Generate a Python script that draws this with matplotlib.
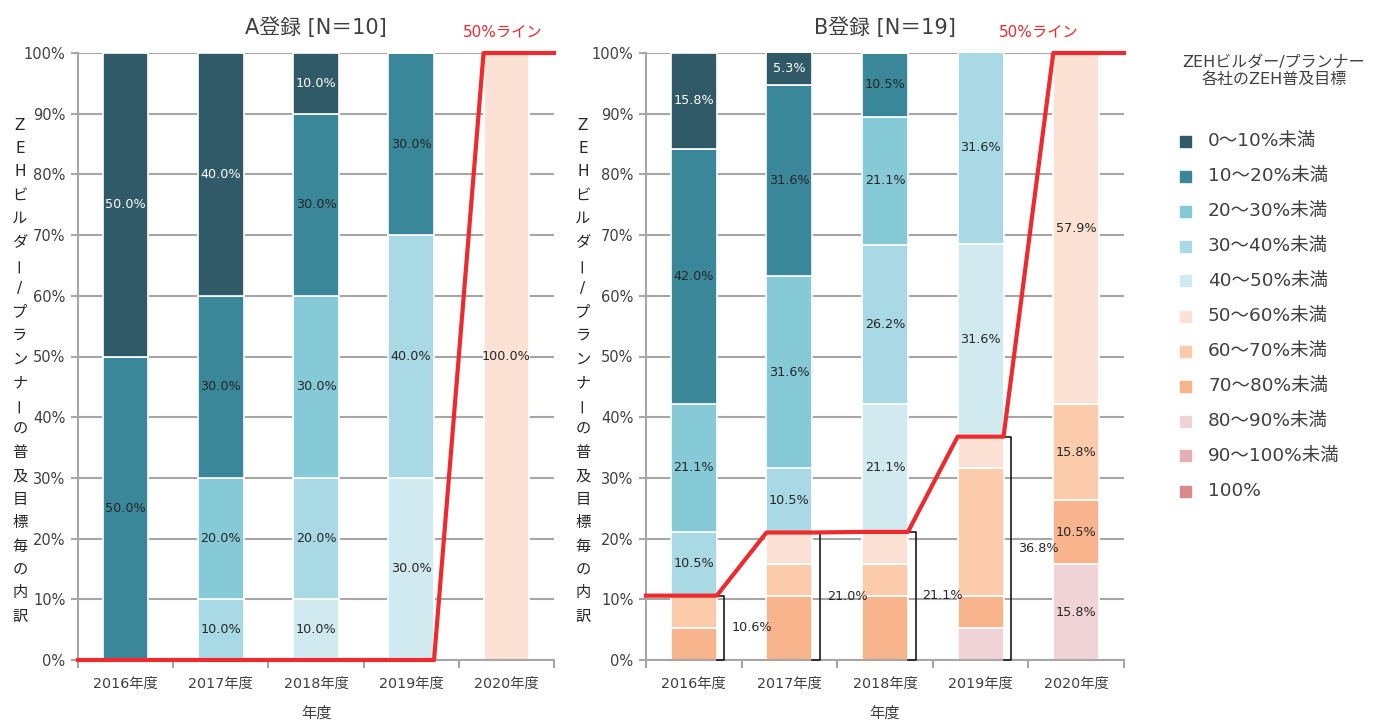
import numpy as np
import matplotlib.pyplot as plt
from matplotlib.patches import Rectangle

plt.rcParams['font.family'] = ['DejaVu Sans', 'Noto Sans CJK JP']

years = ['2016年度', '2017年度', '2018年度', '2019年度', '2020年度']
bands = ['0～10%未満', '10～20%未満', '20～30%未満', '30～40%未満', '40～50%未満',
         '50～60%未満', '60～70%未満', '70～80%未満', '80～90%未満', '90～100%未満', '100%']
band_colors = ['#305a67', '#3a8799', '#86cad8', '#a9d9e4', '#d0eaf0',
               '#fce2d4', '#fbcbac', '#f8b48c', '#f0d3d6', '#e4b0b3', '#d88a8d']

# shares per band (rows) and year (cols), %
a_shares = [
    [50, 40, 10, 0, 0],
    [50, 30, 30, 30, 0],
    [0, 20, 30, 0, 0],
    [0, 10, 20, 40, 0],
    [0, 0, 10, 30, 0],
    [0, 0, 0, 0, 100],
    [0, 0, 0, 0, 0],
    [0, 0, 0, 0, 0],
    [0, 0, 0, 0, 0],
    [0, 0, 0, 0, 0],
    [0, 0, 0, 0, 0],
]
b_shares = [
    [15.8, 5.3, 0, 0, 0],
    [42.0, 31.6, 10.5, 0, 0],
    [21.1, 31.6, 21.1, 0, 0],
    [10.5, 10.5, 26.2, 31.6, 0],
    [0, 0, 21.1, 31.6, 0],
    [0, 5.3, 5.3, 5.3, 57.9],
    [5.3, 5.3, 5.3, 21.1, 15.8],
    [5.3, 10.5, 10.5, 5.3, 10.5],
    [0, 0, 0, 5.3, 15.8],
    [0, 0, 0, 0, 0],
    [0, 0, 0, 0, 0],
]
# share of companies with a target of 50% or more
a_over50 = [0, 0, 0, 0, 100]
b_over50 = [10.6, 21.0, 21.1, 36.8, 100]

ylabel_chars = list('ZEHビルダー/プランナーの普及目標毎の内訳')

red = '#ee2a2f'
grid_c = '#a6a6a6'
txt_c = '#404040'
bar_w = 0.48

fig = plt.figure(figsize=(13.8, 7.22), dpi=100)
W, H = 1380, 722
ax_a = fig.add_axes([78 / W, 62 / H, 476 / W, 607 / H])
ax_b = fig.add_axes([646 / W, 62 / H, 478 / W, 607 / H])


def draw_panel(ax, shares, over50, title, tag_x):
    x = np.arange(len(years))
    bottom = np.zeros(len(years))
    for k in range(len(bands) - 1, -1, -1):
        vals = np.array(shares[k], dtype=float)
        ax.bar(x, vals, width=bar_w, bottom=bottom, color=band_colors[k],
               edgecolor='white', linewidth=1.2, zorder=2)
        for i, v in enumerate(vals):
            if v > 0 and (k < 5 or i == len(years) - 1):
                ax.text(x[i], bottom[i] + v / 2, f'{v:.1f}%', ha='center', va='center',
                        fontsize=9.2, color='white' if k == 0 else '#262626', zorder=4)
        bottom += vals

    # brackets for the 50%+ share
    for i, v in enumerate(over50[:-1]):
        if v <= 0:
            continue
        x0 = i + bar_w / 2
        x1 = x0 + 0.08
        ax.plot([x0, x1, x1, x0], [0, 0, v, v], color='#1a1a1a', lw=1.2,
                zorder=3, clip_on=False)
        ax.text(x1 + 0.07, v / 2, f'{v:.1f}%', ha='left', va='center',
                fontsize=9.2, color='#262626', zorder=4)

    # 50% line
    lx = [-0.5]
    ly = [over50[0]]
    for i, v in enumerate(over50):
        lx += [i - bar_w / 2, i + bar_w / 2]
        ly += [v, v]
    lx.append(len(years) - 0.5)
    ly.append(over50[-1])
    ax.plot(lx, ly, color=red, lw=3, zorder=5, clip_on=False)
    ax.text(tag_x, 1.035, '50%ライン', transform=ax.transAxes, ha='center',
            va='center', fontsize=11, color=red)

    ax.set_xlim(-0.5, len(years) - 0.5)
    ax.set_ylim(0, 100)
    ax.set_yticks(np.arange(0, 101, 10))
    ax.set_yticklabels([f'{t}%' for t in range(0, 101, 10)])
    ax.set_xticks(x)
    ax.set_xticklabels(years)
    ax.set_xticks(np.arange(-0.5, len(years), 1), minor=True)
    ax.tick_params(axis='x', which='major', length=0, pad=12, labelsize=10.3, labelcolor=txt_c)
    ax.tick_params(axis='x', which='minor', length=6, width=1.5, color=grid_c)
    ax.tick_params(axis='y', length=5, width=1.5, color=grid_c, pad=4,
                   labelsize=10.5, labelcolor=txt_c)
    ax.yaxis.grid(True, color=grid_c, lw=1.5)
    ax.set_axisbelow(True)
    for s in ['top', 'right']:
        ax.spines[s].set_visible(False)
    for s in ['left', 'bottom']:
        ax.spines[s].set_color(grid_c)
        ax.spines[s].set_linewidth(1.5)
    ax.set_xlabel('年度', fontsize=11, color=txt_c, labelpad=11)
    ax.set_title(title, fontsize=15, color=txt_c, pad=14)


draw_panel(ax_a, a_shares, a_over50, 'A登録 [N＝10]', 0.893)
draw_panel(ax_b, b_shares, b_over50, 'B登録 [N＝19]', 0.822)

# vertical y-axis labels, one character per line
for xpx in [20, 583]:
    for j, ch in enumerate(ylabel_chars):
        ypx = 125 + j * 23.4
        fig.text(xpx / W, 1 - ypx / H, ch, ha='center', va='center', fontsize=11,
                 color='#262626', rotation=90 if ch == 'ー' else 0)

# legend
fig.text(1274 / W, 1 - 71 / H, 'ZEHビルダー/プランナー\n各社のZEH普及目標', ha='center',
         va='center', fontsize=11.5, color=txt_c, linespacing=1.15)
for k, lab in enumerate(bands):
    ypx = 141 + k * 35
    fig.add_artist(Rectangle((1180 / W, 1 - (ypx + 5.5) / H), 11 / W, 11 / H,
                             transform=fig.transFigure, color=band_colors[k]))
    fig.text(1208 / W, 1 - ypx / H, lab, ha='left', va='center', fontsize=13.3, color=txt_c)

fig.savefig('out.png', dpi=100)
